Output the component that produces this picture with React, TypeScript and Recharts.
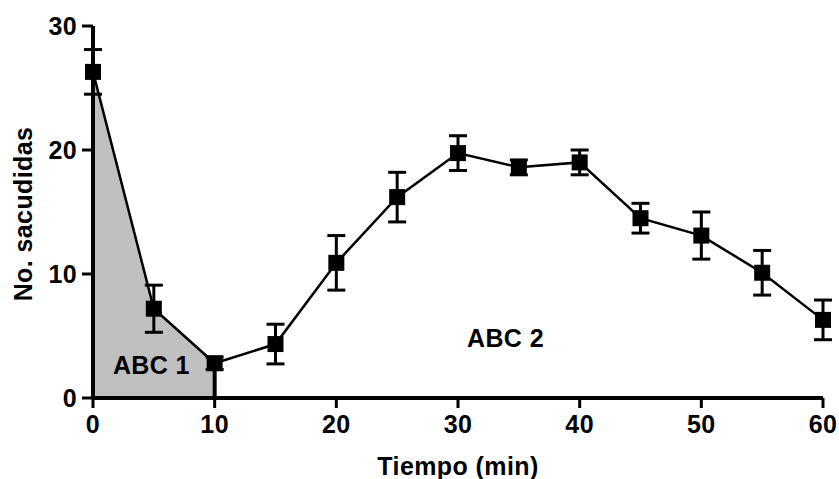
// Curso temporal de sacudidas con áreas bajo la curva (ABC 1 y ABC 2)
import {
  ComposedChart,
  Line,
  Area,
  XAxis,
  YAxis,
  ErrorBar,
  ReferenceLine,
  ReferenceDot,
} from "recharts";

const tiempo = [0, 5, 10, 15, 20, 25, 30, 35, 40, 45, 50, 55, 60];
const sacudidas = [26.3, 7.2, 2.8, 4.35, 10.9, 16.2, 19.75, 18.6, 19.0, 14.5, 13.1, 10.1, 6.3];
const errorEst = [1.8, 1.9, 0.5, 1.6, 2.2, 2.0, 1.4, 0.6, 1.0, 1.2, 1.9, 1.8, 1.6];
const ticksX = [0, 10, 20, 30, 40, 50, 60];
const ticksY = [0, 10, 20, 30];
const finAbc1 = 10;

const data = tiempo.map((t, i) => ({
  t,
  y: sacudidas[i],
  err: errorEst[i],
  abc1: t <= finAbc1 ? sacudidas[i] : null,
}));

const valorFinAbc1 = sacudidas[tiempo.indexOf(finAbc1)];

const FONT = "'Liberation Sans', Arial, sans-serif";
const tickStyle = {
  fill: "#000",
  fontSize: 25,
  fontWeight: 700,
  fontFamily: FONT,
  letterSpacing: 0.4,
};

function Cuadro(props: any) {
  const { cx, cy, index } = props;
  if (cx == null || cy == null) return null;
  return <rect key={index} x={cx - 8} y={cy - 8} width={16} height={16} fill="#000" />;
}

function TituloY({ viewBox }: any) {
  const cx = viewBox.x + 23;
  const cy = viewBox.y + viewBox.height / 2 + 2;
  return (
    <text
      x={cx}
      y={cy}
      transform={`rotate(-90 ${cx} ${cy})`}
      textAnchor="middle"
      dominantBaseline="central"
      style={tickStyle}
    >
      No. sacudidas
    </text>
  );
}

function TituloX({ viewBox }: any) {
  const cx = viewBox.x + viewBox.width / 2;
  const cy = viewBox.y + 68;
  return (
    <text x={cx} y={cy} textAnchor="middle" dominantBaseline="central" style={tickStyle}>
      Tiempo (min)
    </text>
  );
}

function Etiqueta(texto: string) {
  return ({ viewBox }: any) => (
    <text
      x={viewBox.x + (viewBox.width || 0) / 2}
      y={viewBox.y + (viewBox.height || 0) / 2}
      textAnchor="middle"
      dominantBaseline="central"
      style={tickStyle}
    >
      {texto}
    </text>
  );
}

export default function App() {
  return (
    <div style={{ position: "absolute", left: 0, top: 0, background: "#fff" }}>
      <ComposedChart
        width={839}
        height={479}
        data={data}
        margin={{ top: 26, right: 16, left: 0, bottom: 0 }}
      >
        <XAxis
          dataKey="t"
          type="number"
          domain={[0, 60]}
          ticks={ticksX}
          height={81}
          tick={tickStyle}
          tickSize={10}
          tickMargin={7}
          axisLine={{ stroke: "#000", strokeWidth: 4 }}
          tickLine={{ stroke: "#000", strokeWidth: 3 }}
          label={{ content: TituloX }}
        />
        <YAxis
          type="number"
          domain={[0, 30]}
          ticks={ticksY}
          width={93}
          tick={tickStyle}
          tickSize={11}
          tickMargin={5}
          axisLine={{ stroke: "#000", strokeWidth: 4 }}
          tickLine={{ stroke: "#000", strokeWidth: 3 }}
          label={{ content: TituloY }}
        />
        <Area
          type="linear"
          dataKey="abc1"
          stroke="none"
          fill="#c0c0c0"
          fillOpacity={1}
          isAnimationActive={false}
        />
        <ReferenceLine
          segment={[
            { x: finAbc1, y: 0 },
            { x: finAbc1, y: valorFinAbc1 },
          ]}
          stroke="#000"
          strokeWidth={4}
        />
        <Line
          type="linear"
          dataKey="y"
          stroke="#000"
          strokeWidth={2.5}
          dot={Cuadro}
          activeDot={false}
          isAnimationActive={false}
        >
          <ErrorBar dataKey="err" direction="y" width={9} stroke="#000" strokeWidth={3} />
        </Line>
        <ReferenceDot x={4.8} y={2.65} r={0} label={{ content: Etiqueta("ABC 1") }} />
        <ReferenceDot x={33.9} y={4.8} r={0} label={{ content: Etiqueta("ABC 2") }} />
      </ComposedChart>
    </div>
  );
}
